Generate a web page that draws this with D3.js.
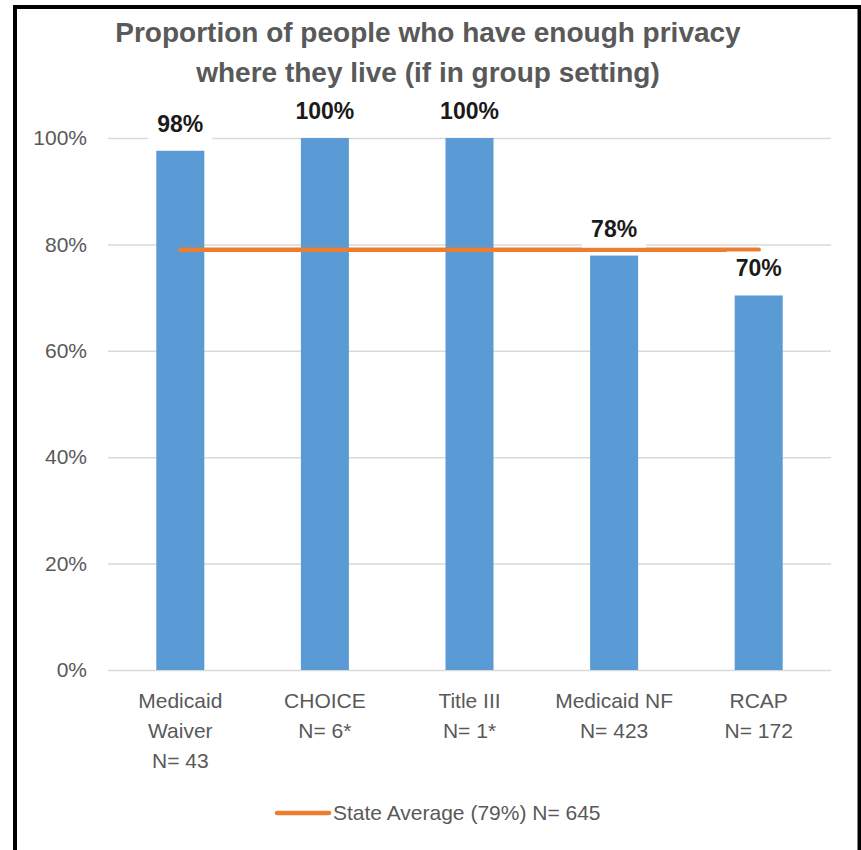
<!DOCTYPE html>
<html>
<head>
<meta charset="utf-8">
<script src="https://d3js.org/d3.v7.min.js"></script>
<style>
  body { margin: 0; background: #fff; }
  text { font-family: "Liberation Sans", Arial, sans-serif; }
</style>
</head>
<body>
<script>
'use strict';
(function() {

  // chart data
  let categories = ["Medicaid Waiver", "CHOICE", "Title III", "Medicaid NF", "RCAP"];
  let categoryLines = [
    ["Medicaid", "Waiver", "N= 43"],
    ["CHOICE", "N= 6*"],
    ["Title III", "N= 1*"],
    ["Medicaid NF", "N= 423"],
    ["RCAP", "N= 172"]
  ];
  let values = [97.6, 100, 100, 77.9, 70.4];
  let stateAverage = 79;
  let yTicks = [0, 20, 40, 60, 80, 100];
  let titleLines = ["Proportion of people who have enough privacy", "where they live (if in group setting)"];
  let legendLabel = "State Average (79%) N= 645";

  let svg = "";

  window.onload = function() {
    svg = d3.select('body')
      .append('svg')
      .attr('width', 861)
      .attr('height', 850);

    makeBarChart();
  }

  function makeBarChart() {
    // frame round the chart
    svg.append('rect')
      .attr('x', 15)
      .attr('y', 7)
      .attr('width', 844.5)
      .attr('height', 900)
      .attr('fill', 'white')
      .attr('stroke', 'black')
      .attr('stroke-width', 4);

    // scales
    let xScale = d3.scaleBand()
      .domain(categories)
      .range([108, 831])
      .paddingInner(0.668)
      .paddingOuter(0.334);

    let yScale = d3.scaleLinear()
      .domain([0, 100])
      .range([670, 138]);

    // gridlines and y axis labels
    let yAxis = d3.axisLeft(yScale)
      .tickValues(yTicks)
      .tickSize(-(831 - 108))
      .tickPadding(21)
      .tickFormat((d) => d + "%");

    let gy = svg.append('g')
      .attr('transform', 'translate(108, 0)')
      .call(yAxis);
    gy.select('.domain').remove();
    gy.selectAll('line')
      .attr('stroke', '#d9d9d9')
      .attr('stroke-width', 1.5);
    gy.selectAll('text')
      .attr('fill', '#595959')
      .style('font-size', '21px');

    // bars
    svg.selectAll('.bar')
      .data(values)
      .enter()
      .append('rect')
        .attr('class', 'bar')
        .attr('x', (d, i) => xScale(categories[i]))
        .attr('y', (d) => yScale(d))
        .attr('width', xScale.bandwidth())
        .attr('height', (d) => yScale(0) - yScale(d))
        .attr('fill', '#5b9bd5');

    // state average line, from first to last category centre
    let half = xScale.bandwidth() / 2;
    let line = d3.line()
      .x((d) => xScale(d) + half)
      .y(() => yScale(stateAverage));

    svg.append('path')
      .datum([categories[0], categories[categories.length - 1]])
      .attr('d', line)
      .attr('fill', 'none')
      .attr('stroke', '#ed7d31')
      .attr('stroke-width', 4.5)
      .attr('stroke-linecap', 'round');

    // data labels with white boxes behind them
    let labels = svg.selectAll('.label')
      .data(values)
      .enter()
      .append('g')
        .attr('class', 'label')
        .attr('transform', (d, i) => 'translate(' + (xScale(categories[i]) + half) + ',' + (yScale(d) - 19) + ')');

    labels.append('rect')
      .attr('x', -32)
      .attr('y', -25)
      .attr('width', 64)
      .attr('height', 36)
      .attr('fill', 'white');

    labels.append('text')
      .attr('text-anchor', 'middle')
      .attr('fill', '#1a1a1a')
      .style('font-size', '23px')
      .style('font-weight', 'bold')
      .text((d) => Math.round(d) + "%");

    // category labels under the axis
    let xLabels = svg.selectAll('.xlabel')
      .data(categoryLines)
      .enter()
      .append('text')
        .attr('class', 'xlabel')
        .attr('text-anchor', 'middle')
        .attr('fill', '#595959')
        .style('font-size', '21px')
        .attr('x', (d, i) => xScale(categories[i]) + half)
        .attr('y', 708);

    xLabels.selectAll('tspan')
      .data((d) => d)
      .enter()
      .append('tspan')
        .attr('x', function() { return this.parentNode.getAttribute('x'); })
        .attr('dy', (d, i) => i == 0 ? 0 : 30)
        .text((d) => d);

    // title
    svg.append('text')
      .attr('text-anchor', 'middle')
      .attr('fill', '#595959')
      .style('font-size', '28px')
      .style('font-weight', 'bold')
      .selectAll('tspan')
      .data(titleLines)
      .enter()
      .append('tspan')
        .attr('x', 428)
        .attr('y', (d, i) => 42 + i * 40)
        .text((d) => d);

    // legend
    svg.append('line')
      .attr('x1', 277)
      .attr('x2', 329)
      .attr('y1', 813)
      .attr('y2', 813)
      .attr('stroke', '#ed7d31')
      .attr('stroke-width', 4.5)
      .attr('stroke-linecap', 'round');

    svg.append('text')
      .attr('x', 333)
      .attr('y', 820)
      .attr('fill', '#595959')
      .style('font-size', '21px')
      .text(legendLabel);
  }

})();
</script>
</body>
</html>
